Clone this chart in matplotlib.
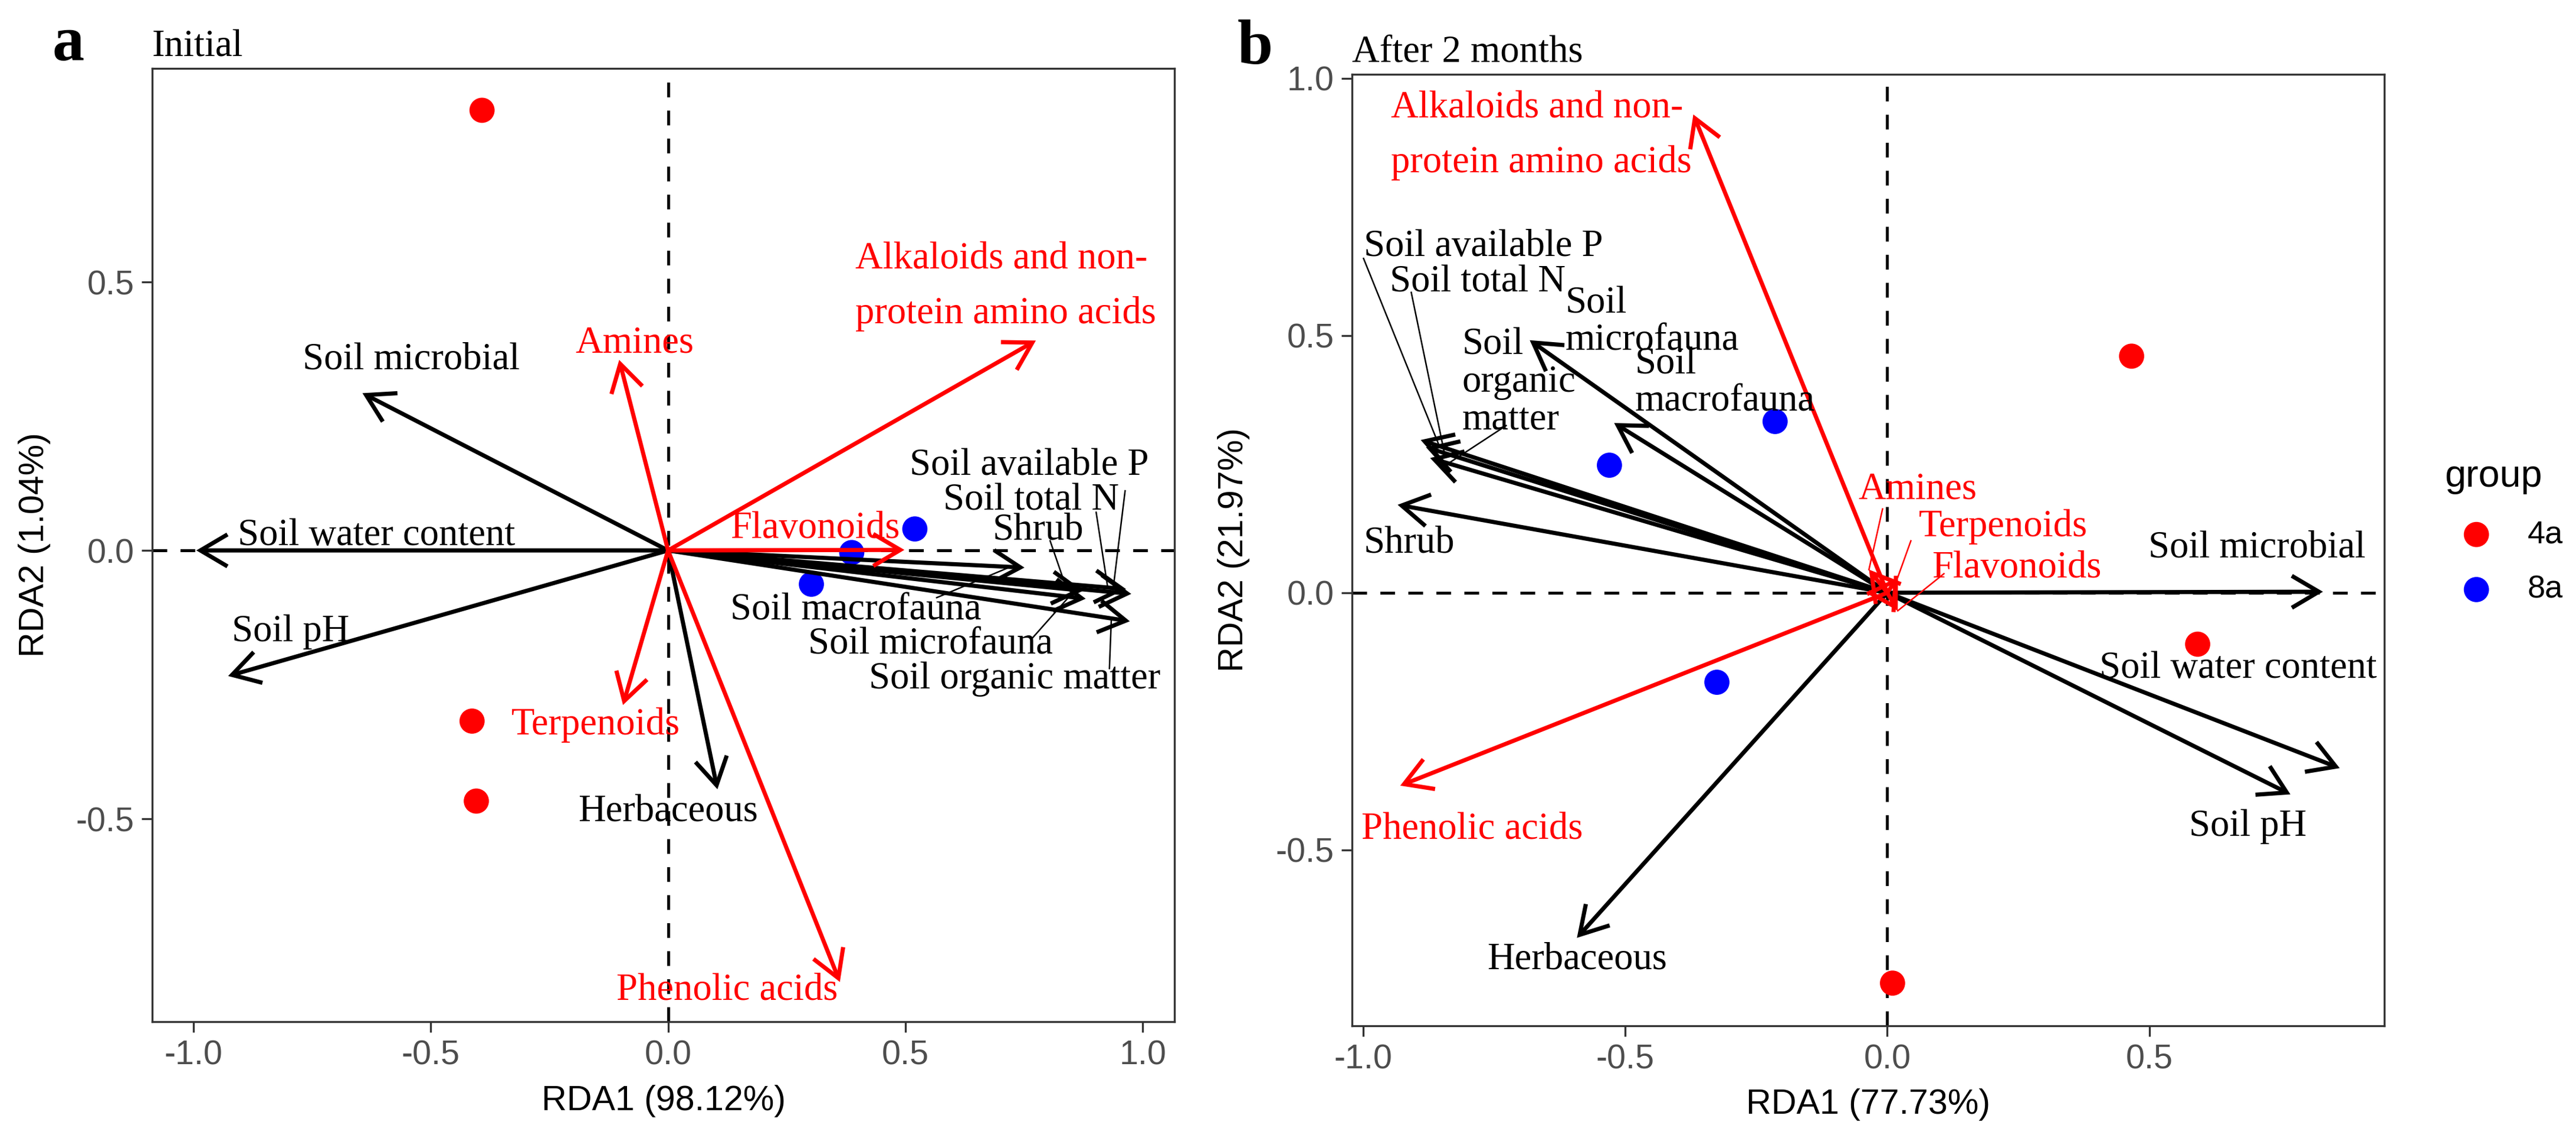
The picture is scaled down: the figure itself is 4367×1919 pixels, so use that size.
import matplotlib
matplotlib.use('Agg')
import matplotlib.pyplot as plt
from matplotlib.patches import FancyArrowPatch

plt.rcParams['font.family'] = 'Liberation Sans'
plt.rcParams['axes.unicode_minus'] = False

SERIF = 'Liberation Serif'

# ---------------- data ----------------
env_names = ['Soil microbial', 'Soil water content', 'Soil pH', 'Herbaceous', 'Shrub',
             'Soil available P', 'Soil total N', 'Soil macrofauna', 'Soil microfauna',
             'Soil organic matter']
chem_names = ['Alkaloids', 'Amines', 'Flavonoids', 'Terpenoids', 'Phenolic acids']

# panel a - Initial
env_a_x = [-0.644, -0.994, -0.927, 0.104, 0.875, 0.976, 0.965, 0.751, 0.880, 0.973]
env_a_y = [0.293, 0.000, -0.234, -0.445, -0.075, -0.081, -0.072, -0.032, -0.090, -0.132]
chem_a_x = [0.775, -0.103, 0.498, -0.095, 0.362]
chem_a_y = [0.391, 0.355, 0.001, -0.288, -0.804]
g4a_a_x = [-0.392, -0.413, -0.404]
g4a_a_y = [0.820, -0.318, -0.467]
g8a_a_x = [0.520, 0.387, 0.302]
g8a_a_y = [0.040, -0.004, -0.063]

# panel b - After 2 months
env_b_x = [0.831, 0.863, 0.769, -0.592, -0.934, -0.890, -0.880, -0.521, -0.682, -0.872]
env_b_y = [0.002, -0.341, -0.392, -0.671, 0.171, 0.297, 0.283, 0.330, 0.491, 0.262]
chem_b_x = [-0.370, -0.035, 0.020, 0.020, -0.929]
chem_b_y = [0.930, 0.045, -0.035, 0.030, -0.375]
g4a_b_x = [0.466, 0.592, 0.010]
g4a_b_y = [0.460, -0.100, -0.759]
g8a_b_x = [-0.214, -0.530, -0.325]
g8a_b_y = [0.333, 0.248, -0.174]

# ---------------- label placement (left edge, vertical centre) ----------------
labels_a = {
    'Soil microbial': (-0.770, 0.355, 'Soil microbial'),
    'Soil water content': (-0.907, 0.027, 'Soil water content'),
    'Soil pH': (-0.919, -0.152, 'Soil pH'),
    'Herbaceous': (-0.190, -0.487, 'Herbaceous'),
    'Shrub': (0.684, 0.038, 'Shrub'),
    'Soil available P': (0.509, 0.158, 'Soil available P'),
    'Soil total N': (0.580, 0.093, 'Soil total N'),
    'Soil macrofauna': (0.131, -0.112, 'Soil macrofauna'),
    'Soil microfauna': (0.295, -0.176, 'Soil microfauna'),
    'Soil organic matter': (0.423, -0.240, 'Soil organic matter'),
    'Alkaloids': (0.394, 0.492, 'Alkaloids and non-\nprotein amino acids'),
    'Amines': (-0.195, 0.386, 'Amines'),
    'Flavonoids': (0.131, 0.040, 'Flavonoids'),
    'Terpenoids': (-0.330, -0.325, 'Terpenoids'),
    'Phenolic acids': (-0.109, -0.819, 'Phenolic acids'),
}
leaders_a = {
    'Soil total N': (0.902, 0.071),
    'Soil available P': (0.963, 0.111),
    'Shrub': (0.805, 0.018),
    'Soil macrofauna': (0.566, -0.088),
    'Soil microfauna': (0.766, -0.165),
    'Soil organic matter': (0.930, -0.220),
}
labels_b = {
    'Soil microbial': (0.498, 0.087, 'Soil microbial'),
    'Soil water content': (0.405, -0.147, 'Soil water content'),
    'Soil pH': (0.576, -0.455, 'Soil pH'),
    'Herbaceous': (-0.763, -0.713, 'Herbaceous'),
    'Shrub': (-0.999, 0.096, 'Shrub'),
    'Soil available P': (-0.999, 0.673, 'Soil available P'),
    'Soil total N': (-0.949, 0.603, 'Soil total N'),
    'Soil macrofauna': (-0.481, 0.408, 'Soil\nmacrofauna'),
    'Soil microfauna': (-0.614, 0.526, 'Soil\nmicrofauna'),
    'Soil organic matter': (-0.811, 0.409, 'Soil\norganic\nmatter'),
    'Alkaloids': (-0.947, 0.889, 'Alkaloids and non-\nprotein amino acids'),
    'Amines': (-0.055, 0.201, 'Amines'),
    'Flavonoids': (0.085, 0.048, 'Flavonoids'),
    'Terpenoids': (0.060, 0.128, 'Terpenoids'),
    'Phenolic acids': (-1.003, -0.460, 'Phenolic acids'),
}
leaders_b = {
    'Soil available P': (-0.999, 0.650),
    'Soil total N': (-0.908, 0.584),
    'Soil organic matter': (-0.727, 0.325),
    'Amines': (-0.009, 0.163),
    'Terpenoids': (0.045, 0.101),
    'Flavonoids': (0.108, 0.037),
}


def draw_panel(ax, env_x, env_y, chem_x, chem_y, p4x, p4y, p8x, p8y, labels, leaders):
    ax.axhline(0, color='black', lw=1.2, dashes=(5, 4.5), zorder=1)
    ax.axvline(0, color='black', lw=1.2, dashes=(5, 4.5), zorder=1)
    ax.scatter(p4x, p4y, s=105, color='red', edgecolors='none', zorder=2, label='4a')
    ax.scatter(p8x, p8y, s=105, color='blue', edgecolors='none', zorder=2, label='8a')

    tips = {}
    for names, xs, ys, col in [(env_names, env_x, env_y, 'black'),
                               (chem_names, chem_x, chem_y, 'red')]:
        for nm, x, y in zip(names, xs, ys):
            arr = FancyArrowPatch((0, 0), (x, y),
                                  arrowstyle='->,head_length=11,head_width=6.5',
                                  mutation_scale=1, color=col, lw=1.7,
                                  shrinkA=0, shrinkB=0, capstyle='butt',
                                  joinstyle='miter', zorder=3)
            ax.add_patch(arr)
            tips[nm] = (x, y, col)

    # leader lines from a label to its arrow tip
    for nm, (sx, sy) in leaders.items():
        x, y, col = tips[nm]
        f = 0.96 if abs(x) + abs(y) > 0.2 else 1.0
        ax.plot([sx, x * f], [sy, y * f], color=col, lw=0.6, zorder=4)

    for nm, (lx, ly, txt) in labels.items():
        col = tips[nm][2]
        ls = 1.72 if nm == 'Alkaloids' else 1.08
        ax.text(lx, ly, txt, family=SERIF, fontsize=15.5, color=col,
                ha='left', va='center', linespacing=ls, zorder=5)

    for sp in ax.spines.values():
        sp.set_color('#333333')
        sp.set_linewidth(0.8)
    ax.tick_params(length=4.3, width=0.8, color='#333333', labelcolor='#4D4D4D',
                   labelsize=13.8, pad=3)


fig = plt.figure(figsize=(4367 / 300, 1919 / 300), dpi=300)
ax1 = fig.add_axes([0.05908, 0.09745, 0.39684, 0.84211])
ax2 = fig.add_axes([0.52485, 0.0938, 0.40073, 0.84055])

draw_panel(ax1, env_a_x, env_a_y, chem_a_x, chem_a_y,
           g4a_a_x, g4a_a_y, g8a_a_x, g8a_a_y, labels_a, leaders_a)
draw_panel(ax2, env_b_x, env_b_y, chem_b_x, chem_b_y,
           g4a_b_x, g4a_b_y, g8a_b_x, g8a_b_y, labels_b, leaders_b)

ax1.set_xlim(-1.087, 1.067)
ax1.set_ylim(-0.878, 0.898)
ax1.set_xticks([-1.0, -0.5, 0.0, 0.5, 1.0])
ax1.set_yticks([-0.5, 0.0, 0.5])
ax2.set_xlim(-1.021, 0.948)
ax2.set_ylim(-0.842, 1.008)
ax2.set_xticks([-1.0, -0.5, 0.0, 0.5])
ax2.set_yticks([-0.5, 0.0, 0.5, 1.0])
for ax in (ax1, ax2):
    ax.xaxis.set_major_formatter(matplotlib.ticker.FormatStrFormatter('%.1f'))
    ax.yaxis.set_major_formatter(matplotlib.ticker.FormatStrFormatter('%.1f'))

ax1.set_xlabel('RDA1 (98.12%)', fontsize=14.2, va='center')
ax1.set_ylabel('RDA2 (1.04%)', fontsize=14.2, va='center')
ax2.set_xlabel('RDA1 (77.73%)', fontsize=14.2, va='center')
ax2.set_ylabel('RDA2 (21.97%)', fontsize=14.2, va='center')
ax1.xaxis.set_label_coords(0.5, -0.083)
ax2.xaxis.set_label_coords(0.5, -0.083)
ax1.yaxis.set_label_coords(-0.1154, 0.5)
ax2.yaxis.set_label_coords(-0.1143, 0.5)

ax1.set_title('Initial', loc='left', family=SERIF, fontsize=15.5, pad=5)
ax2.set_title('After 2 months', loc='left', family=SERIF, fontsize=15.5, pad=5)
fig.text(89 / 4367, 1 - 102 / 1919, 'a', family=SERIF, fontsize=26, fontweight='bold',
         ha='left', va='baseline')
fig.text(2098 / 4367, 1 - 108 / 1919, 'b', family=SERIF, fontsize=26, fontweight='bold',
         ha='left', va='baseline')

handles, labs = ax2.get_legend_handles_labels()
fig.legend(handles, labs, title='group', loc='upper left',
           bbox_to_anchor=(4144 / 4367, 1 - 778 / 1919), frameon=False,
           borderpad=0, borderaxespad=0, fontsize=13, title_fontsize=15.5,
           alignment='left', handletextpad=0.6, labelspacing=0.8, scatterpoints=1)

fig.savefig('out.png', dpi=300)
